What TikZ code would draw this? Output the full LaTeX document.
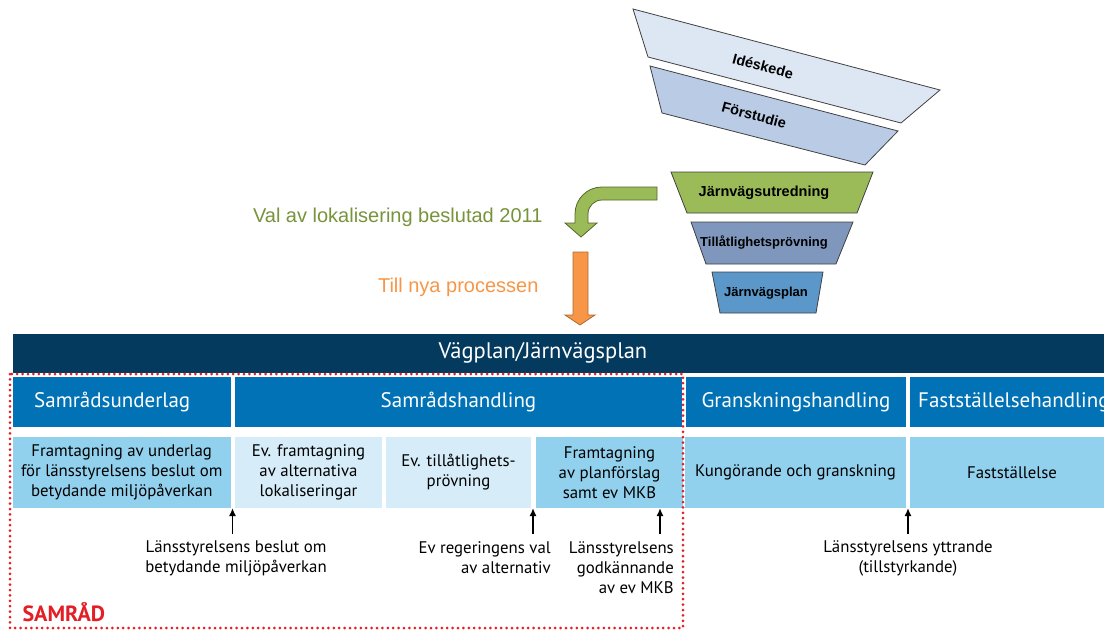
\documentclass[tikz,border=0pt]{standalone}
\usepackage{fontspec}
\setmainfont{PT Sans}
\newfontfamily\arial{Liberation Sans}
\usetikzlibrary{arrows.meta}
\definecolor{navy}{RGB}{3,58,94}
\definecolor{fasblue}{RGB}{0,114,181}
\definecolor{ljusblue}{RGB}{146,209,238}
\definecolor{blekblue}{RGB}{214,237,249}
\definecolor{samradred}{RGB}{227,30,36}
\definecolor{idefill}{RGB}{221,230,243}
\definecolor{forstfill}{RGB}{185,203,229}
\definecolor{utrfill}{RGB}{155,187,89}
\definecolor{tillfill}{RGB}{128,151,189}
\definecolor{planfill}{RGB}{91,151,201}
\definecolor{valgreen}{RGB}{119,147,60}
\definecolor{nyaorange}{RGB}{247,150,70}

\begin{document}
\begin{tikzpicture}[x=1pt,y=-1pt,
  fas/.style={fill=fasblue,text=white,inner sep=0pt,minimum height=50pt,font=\fontsize{21}{24}\selectfont},
  moment/.style={inner sep=0pt,minimum height=71pt,align=center,font=\fontsize{16.8}{20}\selectfont},
  beslut/.style={inner sep=0pt,font=\fontsize{16.8}{20}\selectfont},
  pil/.style={-{Latex[length=8pt,width=7pt]},line width=1.6pt},
  tratt/.style={draw=black!75,line width=0.8pt},
  trattext/.style={font=\arial\bfseries\fontsize{13}{15}\selectfont}]
\useasboundingbox (0,0) rectangle (1104,630);

% tratten
\draw[tratt,fill=idefill] (633,9) -- (940,90) -- (901,123) -- (648,57) -- cycle;
\draw[tratt,fill=forstfill] (650,66) -- (898,131) -- (865,165) -- (662,113) -- cycle;
\draw[tratt,fill=utrfill] (671,172) -- (873,172) -- (857,213) -- (687,213) -- cycle;
\draw[tratt,fill=tillfill] (691,222) -- (853,222) -- (836,264) -- (706,264) -- cycle;
\draw[tratt,fill=planfill] (712,272) -- (823,272) -- (816,313) -- (720,313) -- cycle;
\node[trattext,rotate=-15,font=\arial\bfseries\fontsize{14.5}{16}\selectfont] (ide) at (763,66) {Idéskede};
\node[trattext,rotate=-15,font=\arial\bfseries\fontsize{14.5}{16}\selectfont] (forst) at (754,115) {Förstudie};
\node[trattext,font=\arial\bfseries\fontsize{14.5}{16}\selectfont] (utr) at (764,193) {Järnvägsutredning};
\node[trattext] (till) at (764,243) {Tillåtlighetsprövning};
\node[trattext] (jplan) at (766,293) {Järnvägsplan};

% pilar
\draw[draw=valgreen!70!black,fill=utrfill,line width=0.8pt] (657,187) -- (602,187)
  to[out=180,in=90] (575,214) -- (575,223) -- (565,223) -- (581,237) -- (597,223)
  -- (588,223) -- (588,214) to[out=90,in=180] (602,200) -- (657,200) -- cycle;
\draw[draw=nyaorange!70!black,fill=nyaorange,line width=0.8pt] (573,252) -- (588,252)
  -- (588,315) -- (595,315) -- (580,325) -- (565,315) -- (573,315) -- cycle;
\node[anchor=east,text=valgreen,font=\arial\fontsize{20}{24}\selectfont] (val) at (546,217) {Val av lokalisering beslutad 2011};
\node[anchor=east,text=nyaorange,font=\arial\fontsize{20}{24}\selectfont] (nya) at (542,287) {Till nya processen};

% vägplan
\node[fill=navy,inner sep=0pt,minimum width=1102pt,minimum height=39pt] (plan) at (563.5,353.5) {};
\node[text=white,font=\fontsize{22.5}{26}\selectfont] (plantext) at (543,353) {Vägplan/Järnvägsplan};

\node[fas,anchor=west,inner xsep=21.5pt,text width=175.5pt,align=left] (sunderlag) at (12.5,402) {Samrådsunderlag};
\node[fas,minimum width=447pt] (shandling) at (458.5,402) {Samrådshandling};
\node[fas,minimum width=220pt] (ghandling) at (796,402) {Granskningshandling};
\node[fas,anchor=west,inner xsep=8pt,text width=200pt,align=left] (fhandling) at (910,402) {Fastställelsehandling};

\node[moment,fill=ljusblue,minimum width=218.5pt] (m1) at (121.75,472.5) {Framtagning av underlag\\för länsstyrelsens beslut om\\betydande miljöpåverkan};
\node[moment,fill=blekblue,minimum width=147pt] (m2) at (308.5,472.5) {Ev. framtagning\\av alternativa\\lokaliseringar};
\node[moment,fill=blekblue,minimum width=145pt] (m3) at (458.5,472.5) {Ev. tillåtlighets-\\prövning};
\node[moment,fill=ljusblue,minimum width=147pt] (m4) at (609.5,472.5) {Framtagning\\av planförslag\\samt ev MKB};
\node[moment,fill=ljusblue,minimum width=221pt] (m5) at (795.5,472.5) {Kungörande och granskning};
\node[moment,fill=ljusblue,minimum width=204pt] (m6) at (1012,472.5) {Fastställelse};

\node[beslut,align=center] (b1) at (236,558) {Länsstyrelsens beslut om\\betydande miljöpåverkan};
\node[beslut,align=right,anchor=east] (b2) at (551,558) {Ev regeringens val\\av alternativ};
\node[beslut,align=right,anchor=east] (b3) at (674,568) {Länsstyrelsens\\godkännande\\av ev MKB};
\node[beslut,align=center] (b4) at (908,558) {Länsstyrelsens yttrande\\(tillstyrkande)};

\foreach \x/\n in {232.5/a,533/b,660/c,908/d}{
  \coordinate (\n0) at (\x,534);
  \coordinate (\n1) at (\x,508);
  \draw[pil] (\n0) -- (\n1);
}

% samråd
\draw[samradred,line width=3pt,line cap=round,dash pattern=on 0pt off 5.4pt] (10,374) rectangle (683,628);
\node[anchor=west,text=samradred,font=\bfseries\fontsize{22}{24}\selectfont] (samrad) at (19,612) {SAMRÅD};
\end{tikzpicture}
\end{document}
